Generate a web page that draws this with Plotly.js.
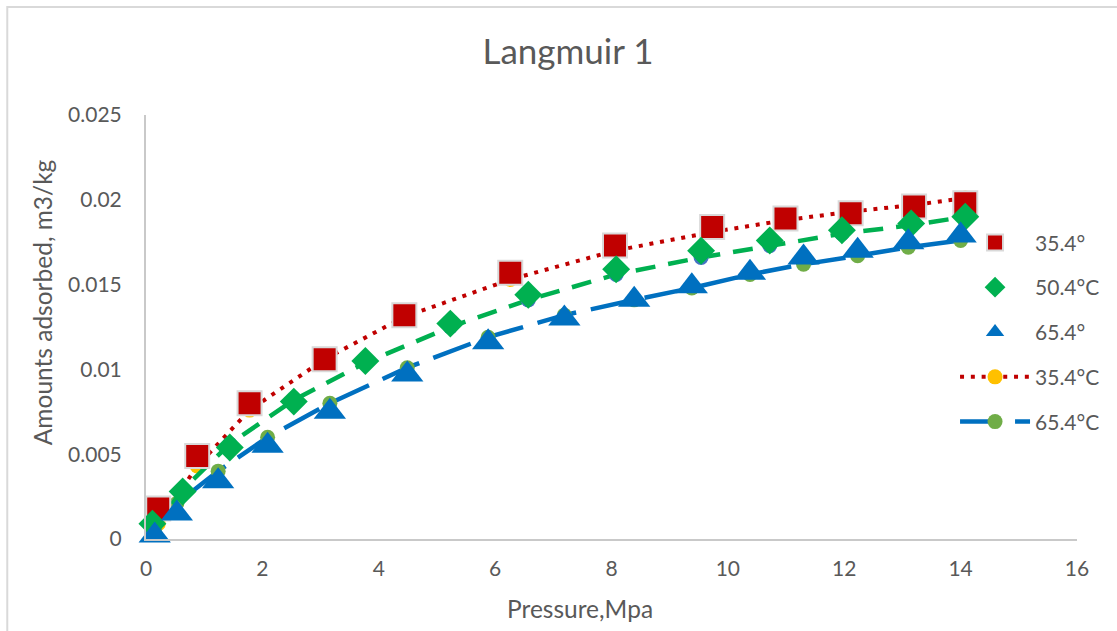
<!DOCTYPE html>
<html>
<head>
<meta charset="utf-8">
<script src="https://cdn.plot.ly/plotly-3.0.1.min.js"></script>
<style>
  html, body { margin: 0; padding: 0; background: #ffffff; }
  #chart { width: 1117px; height: 631px; }
</style>
</head>
<body>
<div id="chart"></div>
<script>
// ---- Data ----
// Measured points at 35.4 °C
const P_35 = [0.21, 0.88, 1.78, 3.07, 4.44, 6.26, 8.06, 9.73, 10.99, 12.11, 13.2, 14.08];
const q_35 = [0.0018, 0.0049, 0.0080, 0.0106, 0.0132, 0.0157, 0.0173, 0.0184, 0.0189, 0.0192, 0.0196, 0.0198];
// Langmuir fit at 35.4 °C
const fit_35 = [0.0009, 0.0043, 0.0076, 0.0106, 0.0131, 0.0153, 0.0170, 0.0181, 0.0188, 0.0193, 0.0197, 0.0201];

// Measured points at 50.4 °C
const P_50 = [0.11, 0.63, 1.44, 2.54, 3.77, 5.23, 6.57, 8.08, 9.54, 10.72, 11.96, 13.15, 14.08];
const q_50 = [0.0009, 0.0028, 0.0054, 0.0081, 0.0105, 0.0127, 0.0144, 0.0159, 0.0170, 0.0176, 0.0182, 0.0186, 0.0190];
// Langmuir fit at 50.4 °C
const fit_50 = [0.0005, 0.0029, 0.0056, 0.0082, 0.0104, 0.0125, 0.0141, 0.0156, 0.0166, 0.0173, 0.0180, 0.0185, 0.0190];

// Measured points at 65.4 °C
const P_65 = [0.15, 0.53, 1.24, 2.09, 3.16, 4.49, 5.88, 7.19, 8.39, 9.38, 10.38, 11.3, 12.23, 13.1, 14.0];
const q_65 = [0.0002, 0.0015, 0.0034, 0.0055, 0.0075, 0.0097, 0.0116, 0.0130, 0.0141, 0.0149, 0.0157, 0.0166, 0.0170, 0.0175, 0.0179];
// Langmuir fit at 65.4 °C
const fit_65 = [0.0006, 0.0021, 0.0040, 0.0060, 0.0080, 0.0101, 0.0119, 0.0132, 0.0141, 0.0148, 0.0156, 0.0162, 0.0167, 0.0172, 0.0176];

const seriesNames = ['35.4°', '50.4°C', '65.4°', '35.4°C', '65.4°C', '50.4°C'];
const xTickVals = [0, 2, 4, 6, 8, 10, 12, 14, 16];
const yTickVals = [0, 0.005, 0.01, 0.015, 0.02, 0.025];
const yTickText = ['0', '0.005', '0.01', '0.015', '0.02', '0.025'];

const FONT = 'Lato, "Liberation Sans", sans-serif';
const GREY = '#595959';

const traces = [
  // fitted lines first (drawn underneath the measured markers)
  {
    x: P_35, y: fit_35, name: seriesNames[3], type: 'scatter', mode: 'lines+markers',
    line: { color: '#C00000', width: 4, dash: '4px,6.8px' },
    marker: { symbol: 'circle', size: 15, color: '#FFC000' },
    legendgroup: 'g4', legendrank: 4, cliponaxis: false
  },
  {
    x: P_65, y: fit_65, name: seriesNames[4], type: 'scatter', mode: 'lines+markers',
    line: { color: '#0070C0', width: 4.5, dash: '40px,15px' },
    marker: { symbol: 'circle', size: 15, color: '#70AD47' },
    legendgroup: 'g5', legendrank: 5, cliponaxis: false
  },
  {
    x: P_50, y: fit_50, name: seriesNames[5], type: 'scatter', mode: 'lines+markers',
    line: { color: '#00B050', width: 4.5, dash: '20px,13px' },
    marker: { symbol: 'circle', size: 15, color: '#4472C4' },
    legendgroup: 'g6', legendrank: 6, showlegend: false, cliponaxis: false
  },
  // measured data
  {
    x: P_35, y: q_35, name: seriesNames[0], type: 'scatter', mode: 'markers',
    marker: { symbol: 'square', size: 24, color: '#C00000', line: { color: '#D9D9D9', width: 2 } },
    legendgroup: 'g1', legendrank: 1, cliponaxis: false
  },
  {
    x: P_50, y: q_50, name: seriesNames[1], type: 'scatter', mode: 'markers',
    marker: { symbol: 'diamond', size: 21.5, color: '#00B050' },
    legendgroup: 'g2', legendrank: 2, cliponaxis: false
  },
  {
    x: P_65, y: q_65, name: seriesNames[2], type: 'scatter', mode: 'markers',
    marker: { symbol: 'triangle-up', size: 28, color: '#0070C0' },
    legendgroup: 'g3', legendrank: 3, cliponaxis: false
  }
];

const layout = {
  width: 1117, height: 631,
  margin: { l: 146, r: 38, t: 115, b: 92 },
  paper_bgcolor: '#ffffff', plot_bgcolor: '#ffffff',
  font: { family: FONT, color: GREY, size: 21 },
  title: {
    text: 'Langmuir 1', x: 0.5085, xanchor: 'center', y: 0.9176, yanchor: 'middle',
    font: { family: FONT, size: 35, color: GREY }
  },
  xaxis: {
    range: [0, 16], tickvals: xTickVals, ticks: '', showgrid: false, zeroline: false,
    showline: true, linecolor: '#C9C9C9', linewidth: 2,
    tickfont: { family: FONT, size: 21, color: GREY }, ticklabelstandoff: 10, fixedrange: true
  },
  yaxis: {
    range: [0, 0.025], tickvals: yTickVals, ticktext: yTickText, ticks: '', showgrid: false, zeroline: false,
    showline: true, linecolor: '#C9C9C9', linewidth: 2,
    tickfont: { family: FONT, size: 21, color: GREY }, ticklabelstandoff: 18, fixedrange: true
  },
  showlegend: true,
  legend: {
    x: 0.869, xanchor: 'left', y: 0.747, yanchor: 'top',
    bgcolor: 'rgba(0,0,0,0)', borderwidth: 0,
    font: { family: FONT, size: 21, color: GREY },
    traceorder: 'grouped', tracegroupgap: 14.5, itemwidth: 70
  },
  annotations: [
    {
      text: 'Pressure,Mpa', xref: 'paper', yref: 'paper', x: 0.4662, y: -0.165,
      xanchor: 'center', yanchor: 'middle', showarrow: false,
      font: { family: FONT, size: 24.5, color: GREY }
    },
    {
      text: 'Amounts adsorbed, m3/kg', xref: 'paper', yref: 'paper', x: -0.1104, y: 0.559,
      xanchor: 'center', yanchor: 'middle', showarrow: false, textangle: -90,
      font: { family: FONT, size: 24.5, color: GREY }
    }
  ],
  shapes: [
    {
      type: 'rect', xref: 'paper', yref: 'paper', layer: 'below',
      x0: -0.149, x1: 1.3, y0: -0.5, y1: 1.2547,
      line: { color: '#D9D9D9', width: 2 }, fillcolor: 'rgba(0,0,0,0)'
    }
  ]
};

Plotly.newPlot('chart', traces, layout, { displayModeBar: false, staticPlot: true });
</script>
</body>
</html>
